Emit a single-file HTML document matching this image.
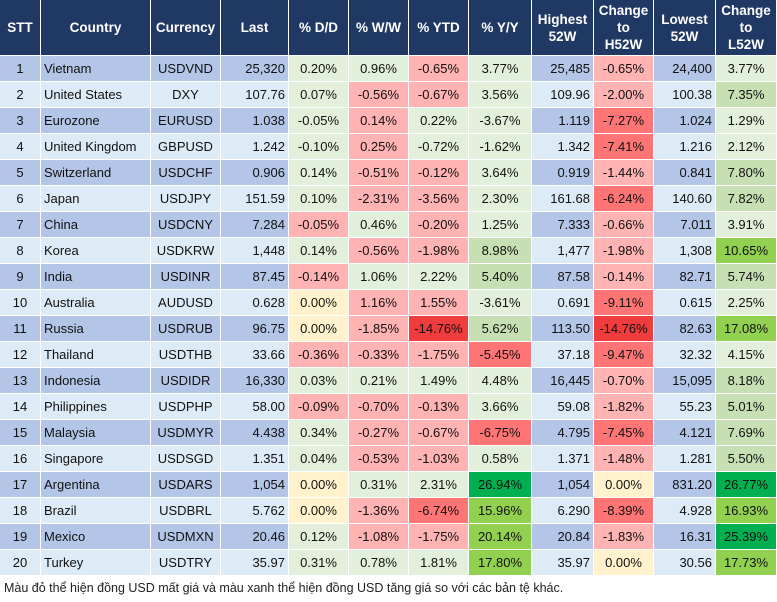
<!DOCTYPE html>
<html><head><meta charset="utf-8"><style>
body{margin:0;width:777px;height:602px;background:#fff;position:relative;overflow:hidden;font-family:"Liberation Sans",Arial,sans-serif;}
table{position:absolute;left:-1px;top:-1px;border-collapse:separate;border-spacing:1px;table-layout:fixed;width:778px;font-size:13px;color:#111;}
td,th{padding:0 3px;white-space:nowrap;overflow:hidden;}
th{background:#203864;color:#fff;font-weight:bold;height:55px;text-align:center;line-height:17px;padding:0;font-size:13.5px;}
td{height:25px;text-align:center;}
tr.o td{background:#b4c6e7}
tr.e td{background:#ddebf7}
td.l{text-align:left}
td.r{text-align:right}
tr td.g{background:#e2efda}
tr td.G{background:#c6e0b4}
tr td.L{background:#92d050}
tr td.D{background:#00b050}
tr td.r1{background:#ffb3b3;text-align:center}
tr td.R{background:#ff7575}
tr td.X{background:#f03c3c}
tr td.y{background:#fff2cc}
.note{position:absolute;left:4px;top:581px;font-size:12.5px;color:#222;}
</style></head><body>
<table>
<colgroup><col style="width:40px"><col style="width:109px"><col style="width:69px"><col style="width:67px"><col style="width:59px"><col style="width:59px"><col style="width:59px"><col style="width:62px"><col style="width:61px"><col style="width:59px"><col style="width:61px"><col style="width:60px"></colgroup>
<tr><th>STT</th><th>Country</th><th>Currency</th><th>Last</th><th>% D/D</th><th>% W/W</th><th>% YTD</th><th>% Y/Y</th><th>Highest<br>52W</th><th>Change<br>to<br>H52W</th><th>Lowest<br>52W</th><th>Change<br>to<br>L52W</th></tr>
<tr class="o"><td>1</td><td class="l">Vietnam</td><td>USDVND</td><td class="r">25,320</td><td class="g">0.20%</td><td class="g">0.96%</td><td class="r1">-0.65%</td><td class="g">3.77%</td><td class="r">25,485</td><td class="r1">-0.65%</td><td class="r">24,400</td><td class="g">3.77%</td></tr>
<tr class="e"><td>2</td><td class="l">United States</td><td>DXY</td><td class="r">107.76</td><td class="g">0.07%</td><td class="r1">-0.56%</td><td class="r1">-0.67%</td><td class="g">3.56%</td><td class="r">109.96</td><td class="r1">-2.00%</td><td class="r">100.38</td><td class="G">7.35%</td></tr>
<tr class="o"><td>3</td><td class="l">Eurozone</td><td>EURUSD</td><td class="r">1.038</td><td class="g">-0.05%</td><td class="r1">0.14%</td><td class="g">0.22%</td><td class="g">-3.67%</td><td class="r">1.119</td><td class="R">-7.27%</td><td class="r">1.024</td><td class="g">1.29%</td></tr>
<tr class="e"><td>4</td><td class="l">United Kingdom</td><td>GBPUSD</td><td class="r">1.242</td><td class="g">-0.10%</td><td class="r1">0.25%</td><td class="g">-0.72%</td><td class="g">-1.62%</td><td class="r">1.342</td><td class="R">-7.41%</td><td class="r">1.216</td><td class="g">2.12%</td></tr>
<tr class="o"><td>5</td><td class="l">Switzerland</td><td>USDCHF</td><td class="r">0.906</td><td class="g">0.14%</td><td class="r1">-0.51%</td><td class="r1">-0.12%</td><td class="g">3.64%</td><td class="r">0.919</td><td class="r1">-1.44%</td><td class="r">0.841</td><td class="G">7.80%</td></tr>
<tr class="e"><td>6</td><td class="l">Japan</td><td>USDJPY</td><td class="r">151.59</td><td class="g">0.10%</td><td class="r1">-2.31%</td><td class="r1">-3.56%</td><td class="g">2.30%</td><td class="r">161.68</td><td class="R">-6.24%</td><td class="r">140.60</td><td class="G">7.82%</td></tr>
<tr class="o"><td>7</td><td class="l">China</td><td>USDCNY</td><td class="r">7.284</td><td class="r1">-0.05%</td><td class="g">0.46%</td><td class="r1">-0.20%</td><td class="g">1.25%</td><td class="r">7.333</td><td class="r1">-0.66%</td><td class="r">7.011</td><td class="g">3.91%</td></tr>
<tr class="e"><td>8</td><td class="l">Korea</td><td>USDKRW</td><td class="r">1,448</td><td class="g">0.14%</td><td class="r1">-0.56%</td><td class="r1">-1.98%</td><td class="G">8.98%</td><td class="r">1,477</td><td class="r1">-1.98%</td><td class="r">1,308</td><td class="L">10.65%</td></tr>
<tr class="o"><td>9</td><td class="l">India</td><td>USDINR</td><td class="r">87.45</td><td class="r1">-0.14%</td><td class="g">1.06%</td><td class="g">2.22%</td><td class="G">5.40%</td><td class="r">87.58</td><td class="r1">-0.14%</td><td class="r">82.71</td><td class="G">5.74%</td></tr>
<tr class="e"><td>10</td><td class="l">Australia</td><td>AUDUSD</td><td class="r">0.628</td><td class="y">0.00%</td><td class="r1">1.16%</td><td class="r1">1.55%</td><td class="g">-3.61%</td><td class="r">0.691</td><td class="R">-9.11%</td><td class="r">0.615</td><td class="g">2.25%</td></tr>
<tr class="o"><td>11</td><td class="l">Russia</td><td>USDRUB</td><td class="r">96.75</td><td class="y">0.00%</td><td class="r1">-1.85%</td><td class="X">-14.76%</td><td class="G">5.62%</td><td class="r">113.50</td><td class="X">-14.76%</td><td class="r">82.63</td><td class="L">17.08%</td></tr>
<tr class="e"><td>12</td><td class="l">Thailand</td><td>USDTHB</td><td class="r">33.66</td><td class="r1">-0.36%</td><td class="r1">-0.33%</td><td class="r1">-1.75%</td><td class="R">-5.45%</td><td class="r">37.18</td><td class="R">-9.47%</td><td class="r">32.32</td><td class="g">4.15%</td></tr>
<tr class="o"><td>13</td><td class="l">Indonesia</td><td>USDIDR</td><td class="r">16,330</td><td class="g">0.03%</td><td class="g">0.21%</td><td class="g">1.49%</td><td class="g">4.48%</td><td class="r">16,445</td><td class="r1">-0.70%</td><td class="r">15,095</td><td class="G">8.18%</td></tr>
<tr class="e"><td>14</td><td class="l">Philippines</td><td>USDPHP</td><td class="r">58.00</td><td class="r1">-0.09%</td><td class="r1">-0.70%</td><td class="r1">-0.13%</td><td class="g">3.66%</td><td class="r">59.08</td><td class="r1">-1.82%</td><td class="r">55.23</td><td class="G">5.01%</td></tr>
<tr class="o"><td>15</td><td class="l">Malaysia</td><td>USDMYR</td><td class="r">4.438</td><td class="g">0.34%</td><td class="r1">-0.27%</td><td class="r1">-0.67%</td><td class="R">-6.75%</td><td class="r">4.795</td><td class="R">-7.45%</td><td class="r">4.121</td><td class="G">7.69%</td></tr>
<tr class="e"><td>16</td><td class="l">Singapore</td><td>USDSGD</td><td class="r">1.351</td><td class="g">0.04%</td><td class="r1">-0.53%</td><td class="r1">-1.03%</td><td class="g">0.58%</td><td class="r">1.371</td><td class="r1">-1.48%</td><td class="r">1.281</td><td class="G">5.50%</td></tr>
<tr class="o"><td>17</td><td class="l">Argentina</td><td>USDARS</td><td class="r">1,054</td><td class="y">0.00%</td><td class="g">0.31%</td><td class="g">2.31%</td><td class="D">26.94%</td><td class="r">1,054</td><td class="y">0.00%</td><td class="r">831.20</td><td class="D">26.77%</td></tr>
<tr class="e"><td>18</td><td class="l">Brazil</td><td>USDBRL</td><td class="r">5.762</td><td class="y">0.00%</td><td class="r1">-1.36%</td><td class="R">-6.74%</td><td class="L">15.96%</td><td class="r">6.290</td><td class="R">-8.39%</td><td class="r">4.928</td><td class="L">16.93%</td></tr>
<tr class="o"><td>19</td><td class="l">Mexico</td><td>USDMXN</td><td class="r">20.46</td><td class="g">0.12%</td><td class="r1">-1.08%</td><td class="r1">-1.75%</td><td class="L">20.14%</td><td class="r">20.84</td><td class="r1">-1.83%</td><td class="r">16.31</td><td class="D">25.39%</td></tr>
<tr class="e"><td>20</td><td class="l">Turkey</td><td>USDTRY</td><td class="r">35.97</td><td class="g">0.31%</td><td class="g">0.78%</td><td class="g">1.81%</td><td class="L">17.80%</td><td class="r">35.97</td><td class="y">0.00%</td><td class="r">30.56</td><td class="L">17.73%</td></tr>
</table>
<div class="note">Màu đỏ thể hiện đồng USD mất giá và màu xanh thể hiện đồng USD tăng giá so với các bản tệ khác.</div>
</body></html>
